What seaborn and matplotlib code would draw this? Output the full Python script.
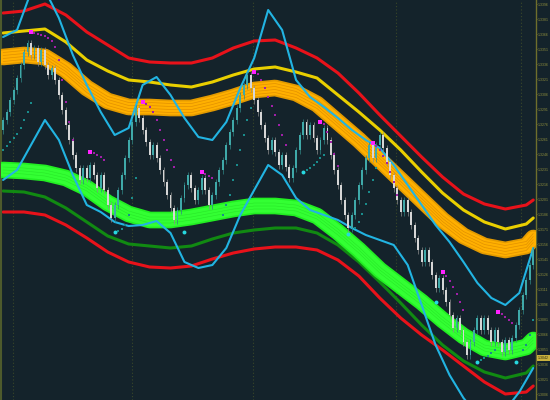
import numpy as np
import pandas as pd
import seaborn as sns
import matplotlib
matplotlib.use('Agg')
import matplotlib.pyplot as plt

# ---- data (prices) ----
first_open = 1.3270
closes = [1.3280, 1.3288, 1.3300, 1.3310, 1.3322, 1.3335, 1.3348, 1.3357, 1.3345, 1.3352,
          1.3338, 1.3350, 1.3335, 1.3325, 1.3332, 1.3320, 1.3305, 1.3290, 1.3275, 1.3260,
          1.3245, 1.3232, 1.3220, 1.3232, 1.3222, 1.3235, 1.3225, 1.3212, 1.3225, 1.3210,
          1.3195, 1.3182, 1.3195, 1.3210, 1.3225, 1.3242, 1.3260, 1.3278, 1.3292, 1.3282,
          1.3270, 1.3258, 1.3245, 1.3255, 1.3242, 1.3230, 1.3218, 1.3205, 1.3192, 1.3180,
          1.3190, 1.3202, 1.3215, 1.3225, 1.3212, 1.3200, 1.3210, 1.3222, 1.3210, 1.3195,
          1.3205, 1.3218, 1.3230, 1.3240, 1.3255, 1.3268, 1.3280, 1.3292, 1.3305, 1.3315,
          1.3325, 1.3312, 1.3300, 1.3288, 1.3275, 1.3262, 1.3250, 1.3260, 1.3248, 1.3235,
          1.3245, 1.3233, 1.3222, 1.3232, 1.3250, 1.3265, 1.3278, 1.3265, 1.3275, 1.3262,
          1.3250, 1.3260, 1.3272, 1.3260, 1.3245, 1.3230, 1.3215, 1.3200, 1.3185, 1.3172,
          1.3185, 1.3200, 1.3215, 1.3230, 1.3242, 1.3255, 1.3242, 1.3255, 1.3265, 1.3252,
          1.3238, 1.3225, 1.3212, 1.3200, 1.3188, 1.3200, 1.3188, 1.3175, 1.3162, 1.3150,
          1.3138, 1.3150, 1.3138, 1.3125, 1.3112, 1.3122, 1.3110, 1.3098, 1.3085, 1.3072,
          1.3082, 1.3070, 1.3058, 1.3045, 1.3058, 1.3070, 1.3082, 1.3070, 1.3082, 1.3070,
          1.3058, 1.3070, 1.3058, 1.3048, 1.3060, 1.3050, 1.3062, 1.3075, 1.3090, 1.3105,
          1.3120, 1.3135, 1.3150]

# bands sampled every 6 bars
band_bars = [0, 6, 12, 18, 24, 30, 36, 42, 48, 54, 60, 66, 72, 78, 84, 90, 96, 102,
             108, 114, 120, 126, 132, 138, 144, 150, 152]
red_upper = [1.3387, 1.3389, 1.3396, 1.3385, 1.3368, 1.3355, 1.3342, 1.3338, 1.3337, 1.3337,
             1.3342, 1.3352, 1.3359, 1.3360, 1.3352, 1.3342, 1.3327, 1.3307, 1.3285, 1.3264,
             1.3243, 1.3223, 1.3206, 1.3196, 1.3191, 1.3195, 1.3200]
yellow_upper = [1.3367, 1.3369, 1.3371, 1.3358, 1.3340, 1.3329, 1.3320, 1.3318, 1.3315, 1.3313,
                1.3318, 1.3325, 1.3331, 1.3333, 1.3328, 1.3322, 1.3305, 1.3288, 1.3270, 1.3250,
                1.3228, 1.3207, 1.3190, 1.3178, 1.3171, 1.3176, 1.3182]
orange_ma = [1.3343, 1.3345, 1.3343, 1.3330, 1.3312, 1.3299, 1.3293, 1.3293, 1.3292, 1.3292,
             1.3297, 1.3303, 1.3310, 1.3312, 1.3307, 1.3296, 1.3278, 1.3260, 1.3240, 1.3220,
             1.3200, 1.3180, 1.3164, 1.3154, 1.3150, 1.3154, 1.3162]
green_ma = [1.3230, 1.3229, 1.3227, 1.3222, 1.3212, 1.3197, 1.3186, 1.3180, 1.3180, 1.3183,
            1.3187, 1.3191, 1.3194, 1.3194, 1.3192, 1.3184, 1.3168, 1.3150, 1.3130, 1.3114,
            1.3098, 1.3080, 1.3064, 1.3052, 1.3048, 1.3053, 1.3060]
dkgreen_lower = [1.3209, 1.3208, 1.3203, 1.3192, 1.3178, 1.3164, 1.3156, 1.3154, 1.3152, 1.3154,
                 1.3161, 1.3167, 1.3170, 1.3172, 1.3172, 1.3167, 1.3155, 1.3138, 1.3118, 1.3097,
                 1.3075, 1.3055, 1.3039, 1.3028, 1.3022, 1.3027, 1.3034]
red_lower = [1.3188, 1.3188, 1.3185, 1.3175, 1.3162, 1.3148, 1.3138, 1.3133, 1.3132, 1.3134,
             1.3141, 1.3147, 1.3151, 1.3153, 1.3153, 1.3150, 1.3140, 1.3124, 1.3102, 1.3082,
             1.3065, 1.3050, 1.3034, 1.3018, 1.3006, 1.3008, 1.3014]

# cyan envelope sampled every 4 bars
cyan_bars = list(range(0, 153, 4))
cyan_upper = [1.3363, 1.3370, 1.3408, 1.3410, 1.3382, 1.3345, 1.3315, 1.3288, 1.3265, 1.3272,
              1.3315, 1.3323, 1.3305, 1.3282, 1.3263, 1.3260, 1.3278, 1.3312, 1.3342, 1.3390,
              1.3370, 1.3320, 1.3303, 1.3293, 1.3282, 1.3270, 1.3260, 1.3252, 1.3235, 1.3215,
              1.3195, 1.3175, 1.3158, 1.3138, 1.3117, 1.3102, 1.3095, 1.3107, 1.3152]
cyan_lower = [1.3220, 1.3230, 1.3255, 1.3280, 1.3260, 1.3225, 1.3195, 1.3188, 1.3178, 1.3174,
              1.3175, 1.3179, 1.3167, 1.3138, 1.3132, 1.3135, 1.3152, 1.3185, 1.3210, 1.3235,
              1.3225, 1.3202, 1.3190, 1.3185, 1.3180, 1.3172, 1.3165, 1.3160, 1.3155, 1.3135,
              1.3095, 1.3055, 1.3025, 1.3002, 1.2985, 1.2980, 1.2990, 1.3008, 1.3032]

# stop-and-reverse dots: start markers and trailing dots
sar_dn_start_x = [8, 25, 40, 57, 72, 91, 106, 126, 142]
sar_dn_start_y = [1.3368, 1.3248, 1.3298, 1.3228, 1.3328, 1.3278, 1.3257, 1.3128, 1.3088]
sar_dn_x = [9, 10, 11, 12, 13, 14, 15, 16, 17, 18, 19, 20,
            26, 27, 28, 29,
            41, 42, 43, 44, 45, 46, 47, 48, 49,
            58, 59, 60,
            73, 74, 75, 76, 77, 78, 79, 80, 81,
            92, 93, 94, 95, 96,
            107, 108, 109, 110, 111, 112, 113,
            127, 128, 129, 130, 131, 132,
            143, 144, 145, 146]
sar_dn_y = [1.3367, 1.3366, 1.3365, 1.3364, 1.3362, 1.3359, 1.3353, 1.3340, 1.3320, 1.3298, 1.3278, 1.3260,
            1.3247, 1.3245, 1.3243, 1.3240,
            1.3296, 1.3293, 1.3288, 1.3280, 1.3270, 1.3260, 1.3250, 1.3240, 1.3233,
            1.3226, 1.3224, 1.3222,
            1.3326, 1.3320, 1.3312, 1.3303, 1.3294, 1.3285, 1.3275, 1.3265, 1.3255,
            1.3276, 1.3268, 1.3258, 1.3246, 1.3234,
            1.3254, 1.3250, 1.3244, 1.3237, 1.3228, 1.3218, 1.3205,
            1.3124, 1.3119, 1.3113, 1.3106, 1.3098, 1.3090,
            1.3086, 1.3083, 1.3080, 1.3077]

sar_up_start_x = [32, 52, 86, 99, 124, 136, 147]
sar_up_start_y = [1.3168, 1.3168, 1.3228, 1.3166, 1.3098, 1.3038, 1.3038]
sar_up_x = [0, 1, 2, 3, 4, 5, 6, 7, 8,
            33, 34, 35, 36, 37, 38,
            63, 64, 65, 66, 67, 68, 69, 70, 71,
            87, 88, 89, 90, 91, 92,
            101, 102, 103, 104, 105, 106, 107,
            137, 138, 139, 140, 141,
            149, 150, 151, 152]
sar_up_y = [1.3250, 1.3254, 1.3258, 1.3262, 1.3266, 1.3272, 1.3280, 1.3288, 1.3297,
            1.3169, 1.3171, 1.3175, 1.3185, 1.3202, 1.3222,
            1.3185, 1.3195, 1.3205, 1.3220, 1.3235, 1.3250, 1.3265, 1.3280, 1.3292,
            1.3230, 1.3232, 1.3235, 1.3238, 1.3242, 1.3245,
            1.3172, 1.3178, 1.3186, 1.3196, 1.3208, 1.3220, 1.3232,
            1.3040, 1.3042, 1.3044, 1.3047, 1.3050,
            1.3050, 1.3055, 1.3065, 1.3080]

session_bars = [2.9, 36.9, 71.7, 112.6, 148.6]
marker_price = 1.3042

# ---- style ----
bg = '#14232b'
olive = '#8f8f3c'
sns.set_style('dark', {'axes.facecolor': bg, 'figure.facecolor': bg})
plt.rcParams['font.family'] = ['Liberation Sans', 'DejaVu Sans']

fig = plt.figure(figsize=(5.5, 4), dpi=100)
ax = fig.add_axes([0.002, 0.0, 0.973, 1.0])
ax.set_facecolor(bg)

# bands
bands = pd.DataFrame({'bar': band_bars, 'red_up': red_upper, 'yel_up': yellow_upper,
                      'orange': orange_ma, 'green': green_ma,
                      'dkgreen': dkgreen_lower, 'red_lo': red_lower})
cyan = pd.DataFrame({'bar': cyan_bars, 'up': cyan_upper, 'lo': cyan_lower})

def line(y, data, color, lw, alpha=1.0, z=2, shift=0.0):
    sns.lineplot(x=data['bar'], y=data[y] + shift, color=color, lw=lw, alpha=alpha,
                 ax=ax, estimator=None, sort=False, zorder=z)

line('red_up', bands, '#e8121a', 2.2)
line('yel_up', bands, '#e9cf00', 2.2)
line('red_lo', bands, '#e8121a', 2.2)
line('dkgreen', bands, '#118a12', 2.2)

# thick textured moving-average bands
line('orange', bands, '#e39a00', 12.0, z=3)
line('orange', bands, '#ffb000', 9.5, z=3)
for off in (-0.00045, -0.00015, 0.00015, 0.00045):
    line('orange', bands, '#d68400', 0.5, alpha=0.7, z=3, shift=off)
line('green', bands, '#22ee22', 12.0, z=3)
line('green', bands, '#33ff33', 9.5, z=3)
for off in (-0.0003, 0.0, 0.0003):
    line('green', bands, '#1ccf1c', 0.4, alpha=0.5, z=3, shift=off)

# cyan envelope
sns.lineplot(data=cyan, x='bar', y='up', color='#22b4e2', lw=1.5, ax=ax,
             estimator=None, sort=False, zorder=4)
sns.lineplot(data=cyan, x='bar', y='lo', color='#22b4e2', lw=1.5, ax=ax,
             estimator=None, sort=False, zorder=4)

# candles
c = np.array(closes)
o = np.r_[first_open, c[:-1]]
x = np.arange(len(c))
up = c > o
lo = np.minimum(o, c)
hi = np.maximum(o, c)
ax.vlines(x, lo - 0.0004, hi + 0.0003, color=np.where(up, '#2f8585', '#8c8c8c'), lw=0.5, zorder=5)
ax.bar(x[up], (hi - lo)[up], bottom=lo[up], width=0.55, color='#3fa9a9', lw=0, zorder=6)
ax.bar(x[~up], (hi - lo)[~up], bottom=lo[~up], width=0.55, color='#d6d6d6', lw=0, zorder=6)

# SAR dots
sns.scatterplot(x=sar_dn_x, y=sar_dn_y, color='#a020a8', s=2.0, marker='s', linewidth=0, ax=ax, zorder=7)
sns.scatterplot(x=sar_dn_start_x, y=sar_dn_start_y, color='#ff22ff', s=9, marker='s', linewidth=0, ax=ax, zorder=7)
sns.scatterplot(x=sar_up_x, y=sar_up_y, color='#1a8c8c', s=2.0, marker='s', linewidth=0, ax=ax, zorder=7)
sns.scatterplot(x=sar_up_start_x, y=sar_up_start_y, color='#27d8e0', s=8, marker='o', linewidth=0, ax=ax, zorder=7)

# axes
ax.set_xlim(-0.57, 152.86)
ax.set_ylim(1.3000, 1.3400)
ax.set_xticks(session_bars)
ax.set_xticklabels([])
ax.grid(axis='x', color='#3a4829', ls=(0, (1, 2)), lw=0.8)
ax.grid(axis='y', visible=False)
ax.set_xlabel('')
ax.set_ylabel('')

ticks = np.arange(1.3396, 1.3000, -0.0015)
ax.yaxis.tick_right()
ax.set_yticks(ticks)
ax.set_yticklabels([f'{t:.4f}' for t in ticks], fontsize=2.5, color=olive)
ax.tick_params(axis='y', length=0.8, width=0.5, color=olive, pad=0.5)
ax.tick_params(axis='x', length=0)
for side in ('top', 'bottom'):
    ax.spines[side].set_visible(False)
ax.spines['right'].set_color('#6f6f2c')
ax.spines['right'].set_linewidth(1.0)
ax.spines['left'].set_color('#4d5a2c')
ax.spines['left'].set_linewidth(1.5)

ax.annotate(f'{marker_price:.4f}', xy=(1.0, marker_price), xycoords=('axes fraction', 'data'),
            xytext=(1.0, 0), textcoords='offset points', va='center', ha='left',
            fontsize=2.5, color='#2a2a10',
            bbox=dict(boxstyle='square,pad=0.25', fc='#c9b23e', ec='none'))

fig.savefig('out.png', dpi=100, facecolor=bg)
